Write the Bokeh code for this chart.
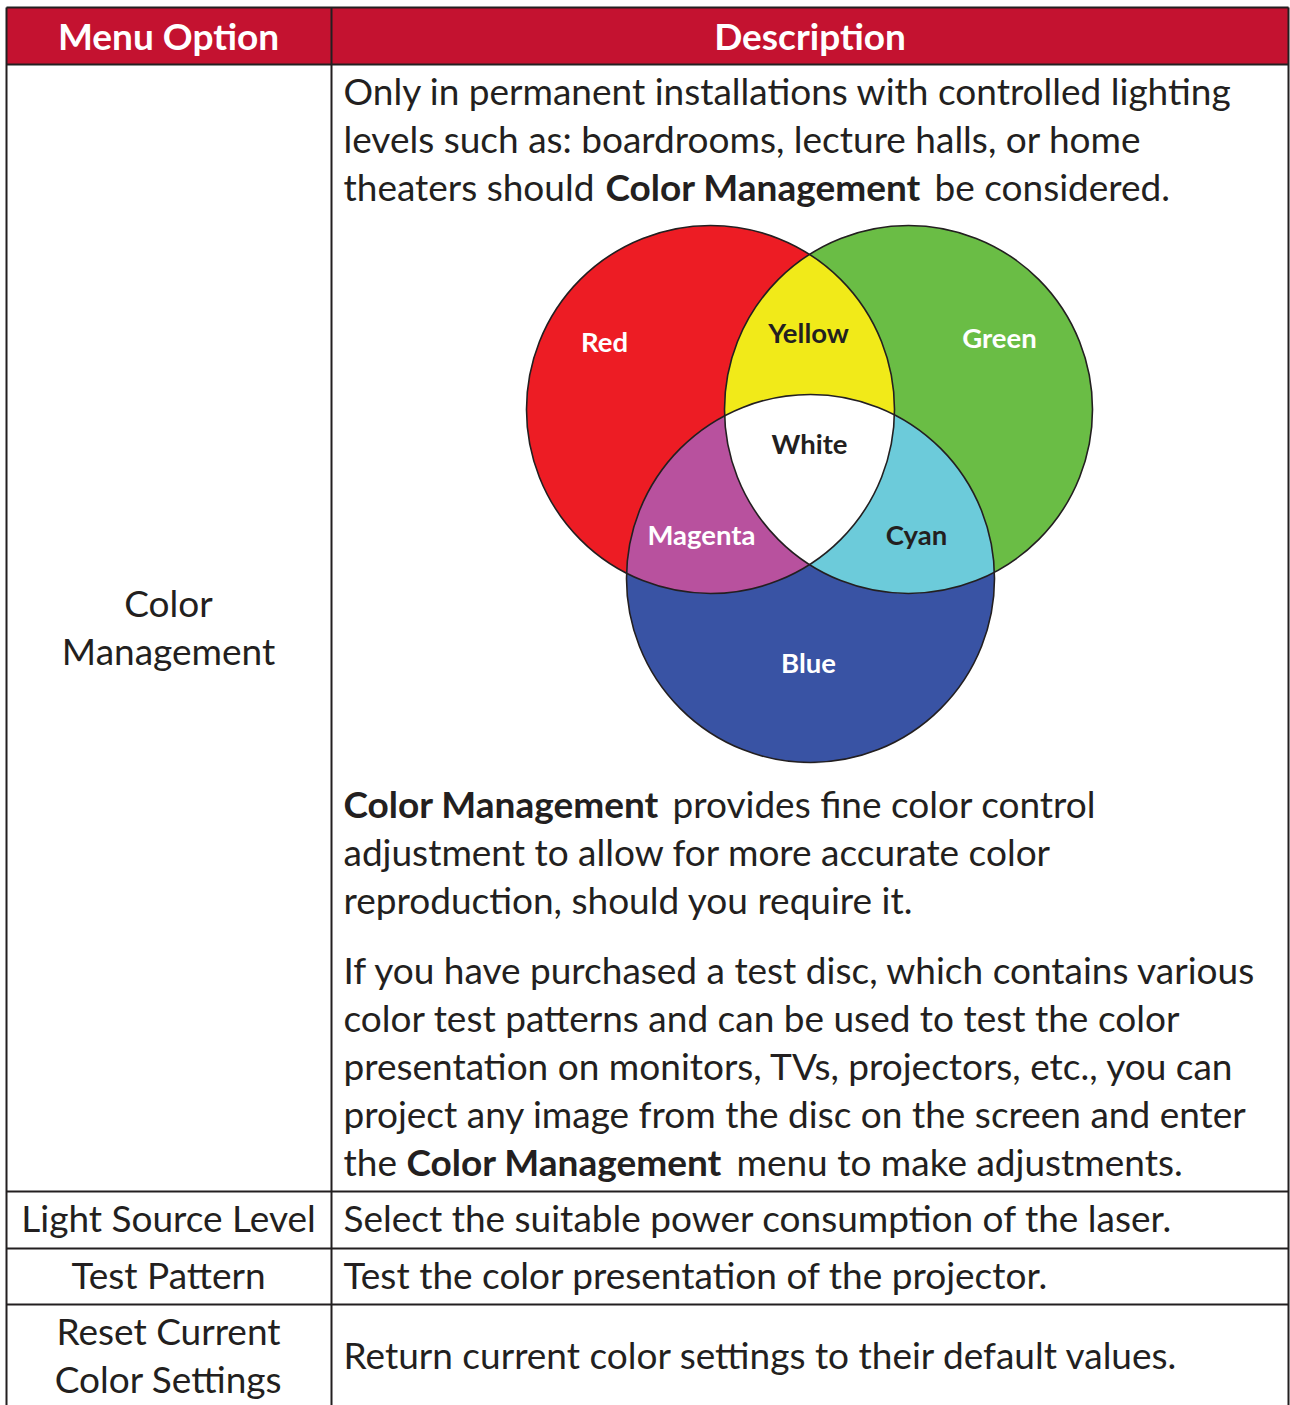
import numpy as np
from bokeh.plotting import figure
from bokeh.models import Range1d
from bokeh.embed import file_html
from bokeh.resources import INLINE
from bokeh.core.properties import value

# ---------------- data ----------------
header_labels = ["Menu Option", "Description"]
menu_options = [["Color", "Management"], ["Light Source Level"], ["Test Pattern"],
                ["Reset Current", "Color Settings"]]

# description lines: list of segments (text, bold)
desc_color_mgmt_top = [
    [("Only in permanent installations with controlled lighting", False)],
    [("levels such as: boardrooms, lecture halls, or home", False)],
    [("theaters should ", False), ("Color Management", True), ("be considered.", False)],
]
desc_color_mgmt_bottom = [
    [("Color Management", True), ("provides fine color control", False)],
    [("adjustment to allow for more accurate color", False)],
    [("reproduction, should you require it.", False)],
    [("If you have purchased a test disc, which contains various", False)],
    [("color test patterns and can be used to test the color", False)],
    [("presentation on monitors, TVs, projectors, etc., you can", False)],
    [("project any image from the disc on the screen and enter", False)],
    [("the ", False), ("Color Management", True), ("menu to make adjustments.", False)],
]
desc_other = [
    "Select the suitable power consumption of the laser.",
    "Test the color presentation of the projector.",
    "Return current color settings to their default values.",
]

venn_sets = ["Red", "Green", "Blue"]
venn_set_colors = ["#ED1C24", "#6ABD45", "#3953A4"]
venn_overlaps = ["Yellow", "Magenta", "Cyan", "White"]
venn_overlap_members = [(0, 1), (0, 2), (1, 2), (0, 1, 2)]
venn_overlap_colors = ["#F1EA19", "#B8519E", "#6CCBDA", "#FFFFFF"]
venn_label_colors = {"Red": "white", "Green": "white", "Blue": "white",
                     "Yellow": "#231F20", "Magenta": "white", "Cyan": "#231F20",
                     "White": "#231F20"}

# ---------------- layout ----------------
W, H = 1290, 1405
FONT = value("Lato")
INK = "#231F20"
HEADER_BG = "#C41230"
BODY_SIZE = "37px"
DY = -3  # text vertical adjustment

left_x, mid_x, right_x = 6, 331, 1288
header_top, header_bot = 7, 64
row_lines = [1191, 1248, 1304]
first_col_c = 168
desc_x = 343
line_step = 48

venn_center = {"Red": (710, 409), "Green": (908, 409), "Blue": (810, 578)}
venn_radius = 184
venn_label_pos = {"Red": (604, 341), "Yellow": (808, 332), "Green": (999, 337),
                  "White": (809, 443), "Magenta": (701, 534), "Cyan": (916, 534),
                  "Blue": (808, 662)}

p = figure(width=W, height=H, x_range=Range1d(0, W), y_range=Range1d(H, 0),
           output_backend="svg", toolbar_location=None, min_border=0)
p.axis.visible = False
p.grid.visible = False
p.outline_line_color = None
p.background_fill_color = "white"

# header
p.quad(left=[left_x], right=[right_x], top=[header_top], bottom=[header_bot],
       fill_color=HEADER_BG, line_color=None)
p.text(x=[first_col_c, (mid_x + right_x) / 2], y=[38 + DY, 38 + DY], text=header_labels,
       text_font=FONT, text_font_style="bold", text_font_size="37px",
       text_color="white", text_align="center", text_baseline="middle")

# grid lines
p.segment(x0=[left_x, mid_x, right_x], x1=[left_x, mid_x, right_x],
          y0=[header_top] * 3, y1=[H] * 3, line_color=INK, line_width=2)
p.segment(x0=[left_x] * 5, x1=[right_x] * 5,
          y0=[header_top, header_bot] + row_lines, y1=[header_top, header_bot] + row_lines,
          line_color=INK, line_width=2)

# first column text
first_col_centers = [629, 1220, 1277, 1357]
xs, ys, ts = [], [], []
for lines, yc in zip(menu_options, first_col_centers):
    n = len(lines)
    for k, t in enumerate(lines):
        xs.append(first_col_c)
        ys.append(yc + DY + (k - (n - 1) / 2) * line_step)
        ts.append(t)
p.text(x=xs, y=ys, text=ts, text_font=FONT, text_font_size=BODY_SIZE, text_color=INK,
       text_align="center", text_baseline="middle")

# description text
seg_starts = {
    (0, 2): [desc_x, 605, 934],
    (1, 0): [desc_x, 672],
    (1, 7): [desc_x, 406, 736],
}
blocks = [(desc_color_mgmt_top, 93), (desc_color_mgmt_bottom, 806)]
nx, ny, nt, bx, by, bt = [], [], [], [], [], []
for bi, (lines, y_start) in enumerate(blocks):
    for li, segs in enumerate(lines):
        y = y_start + DY + li * line_step
        if bi == 1 and li >= 3:
            y += 22
        starts = seg_starts.get((bi, li), [desc_x])
        for (t, bold), sx in zip(segs, starts):
            if bold:
                bx.append(sx); by.append(y); bt.append(t)
            else:
                nx.append(sx); ny.append(y); nt.append(t)
for t, y in zip(desc_other, [1220, 1277, 1357]):
    nx.append(desc_x); ny.append(y + DY); nt.append(t)
p.text(x=nx, y=ny, text=nt, text_font=FONT, text_font_size=BODY_SIZE, text_color=INK,
       text_align="left", text_baseline="middle")
p.text(x=bx, y=by, text=bt, text_font=FONT, text_font_style="bold",
       text_font_size=BODY_SIZE, text_color=INK, text_align="left", text_baseline="middle")

# venn diagram
cx = np.array([venn_center[s][0] for s in venn_sets], float)
cy = np.array([venn_center[s][1] for s in venn_sets], float)
r = venn_radius

p.circle(x=cx, y=cy, radius=r, fill_color=venn_set_colors, line_color=None)


def region(members):
    pts = []
    t = np.linspace(0, 2 * np.pi, 3000, endpoint=False)
    for i in members:
        x = cx[i] + r * np.cos(t)
        y = cy[i] + r * np.sin(t)
        mask = np.ones_like(t, bool)
        for j in members:
            if j != i:
                mask &= (x - cx[j]) ** 2 + (y - cy[j]) ** 2 <= r ** 2 + 1e-6
        pts.append(np.c_[x[mask], y[mask]])
    P = np.vstack(pts)
    c = P.mean(0)
    o = np.argsort(np.arctan2(P[:, 1] - c[1], P[:, 0] - c[0]))
    return list(P[o, 0]), list(P[o, 1])


rx, ry = [], []
for m in venn_overlap_members:
    a, b = region(m)
    rx.append(a); ry.append(b)
p.patches(xs=rx, ys=ry, fill_color=venn_overlap_colors, line_color=None)
p.circle(x=cx, y=cy, radius=r, fill_color=None, line_color=INK, line_width=1.6)

labels = venn_sets + venn_overlaps
p.text(x=[venn_label_pos[l][0] for l in labels], y=[venn_label_pos[l][1] for l in labels],
       text=labels, text_color=[venn_label_colors[l] for l in labels],
       text_font=FONT, text_font_style="bold", text_font_size="27.5px",
       text_align="center", text_baseline="middle")

open("out.html", "w").write(file_html(p, INLINE))
